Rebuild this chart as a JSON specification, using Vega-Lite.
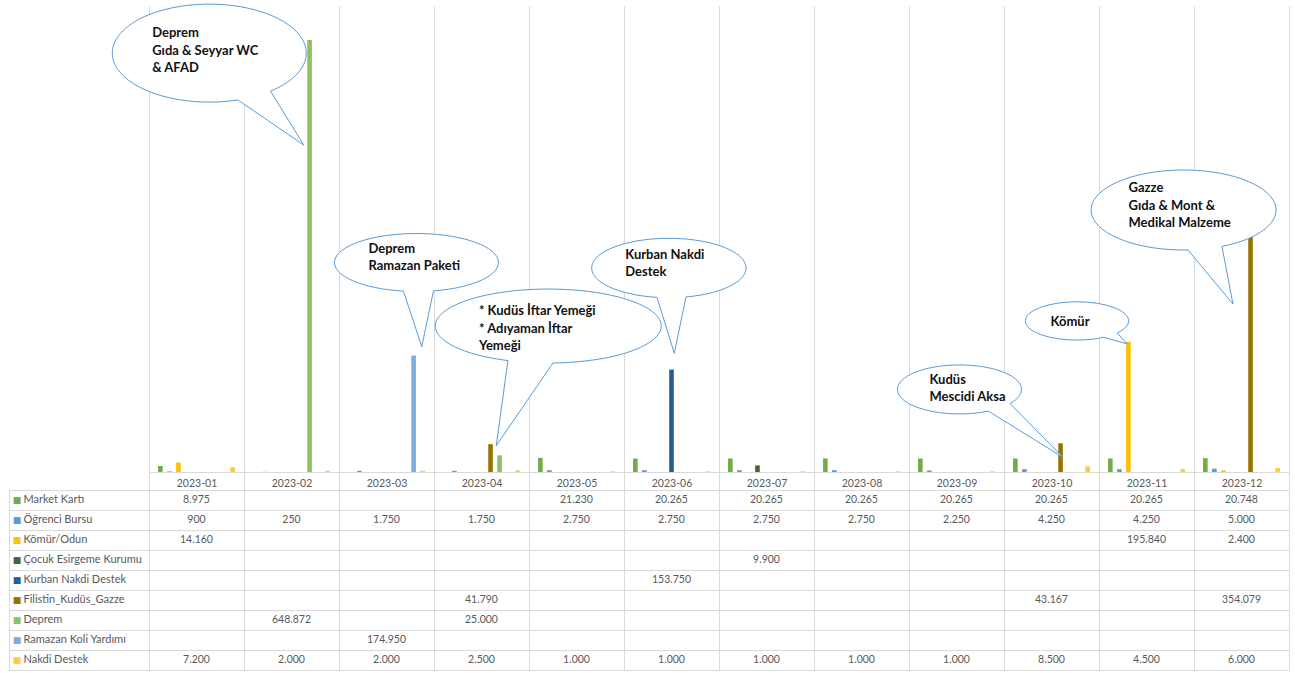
{
  "$schema": "https://vega.github.io/schema/vega-lite/v6.json",
  "background": "white",
  "padding": {"left": 8, "top": 2, "right": 5, "bottom": 2},
  "config": {
    "view": {"stroke": null},
    "locale": {"number": {"decimal": ",", "thousands": ".", "grouping": [3], "currency": ["₺", ""]}}
  },
  "datasets": {
    "table": [
      {"month": "2023-01", "series": "Market Kartı", "value": 8975},
      {"month": "2023-01", "series": "Öğrenci Bursu", "value": 900},
      {"month": "2023-01", "series": "Kömür/Odun", "value": 14160},
      {"month": "2023-01", "series": "Nakdi Destek", "value": 7200},
      {"month": "2023-02", "series": "Öğrenci Bursu", "value": 250},
      {"month": "2023-02", "series": "Deprem", "value": 648872},
      {"month": "2023-02", "series": "Nakdi Destek", "value": 2000},
      {"month": "2023-03", "series": "Öğrenci Bursu", "value": 1750},
      {"month": "2023-03", "series": "Ramazan Koli Yardımı", "value": 174950},
      {"month": "2023-03", "series": "Nakdi Destek", "value": 2000},
      {"month": "2023-04", "series": "Öğrenci Bursu", "value": 1750},
      {"month": "2023-04", "series": "Filistin_Kudüs_Gazze", "value": 41790},
      {"month": "2023-04", "series": "Deprem", "value": 25000},
      {"month": "2023-04", "series": "Nakdi Destek", "value": 2500},
      {"month": "2023-05", "series": "Market Kartı", "value": 21230},
      {"month": "2023-05", "series": "Öğrenci Bursu", "value": 2750},
      {"month": "2023-05", "series": "Nakdi Destek", "value": 1000},
      {"month": "2023-06", "series": "Market Kartı", "value": 20265},
      {"month": "2023-06", "series": "Öğrenci Bursu", "value": 2750},
      {"month": "2023-06", "series": "Kurban Nakdi Destek", "value": 153750},
      {"month": "2023-06", "series": "Nakdi Destek", "value": 1000},
      {"month": "2023-07", "series": "Market Kartı", "value": 20265},
      {"month": "2023-07", "series": "Öğrenci Bursu", "value": 2750},
      {"month": "2023-07", "series": "Çocuk Esirgeme Kurumu", "value": 9900},
      {"month": "2023-07", "series": "Nakdi Destek", "value": 1000},
      {"month": "2023-08", "series": "Market Kartı", "value": 20265},
      {"month": "2023-08", "series": "Öğrenci Bursu", "value": 2750},
      {"month": "2023-08", "series": "Nakdi Destek", "value": 1000},
      {"month": "2023-09", "series": "Market Kartı", "value": 20265},
      {"month": "2023-09", "series": "Öğrenci Bursu", "value": 2250},
      {"month": "2023-09", "series": "Nakdi Destek", "value": 1000},
      {"month": "2023-10", "series": "Market Kartı", "value": 20265},
      {"month": "2023-10", "series": "Öğrenci Bursu", "value": 4250},
      {"month": "2023-10", "series": "Filistin_Kudüs_Gazze", "value": 43167},
      {"month": "2023-10", "series": "Nakdi Destek", "value": 8500},
      {"month": "2023-11", "series": "Market Kartı", "value": 20265},
      {"month": "2023-11", "series": "Öğrenci Bursu", "value": 4250},
      {"month": "2023-11", "series": "Kömür/Odun", "value": 195840},
      {"month": "2023-11", "series": "Nakdi Destek", "value": 4500},
      {"month": "2023-12", "series": "Market Kartı", "value": 20748},
      {"month": "2023-12", "series": "Öğrenci Bursu", "value": 5000},
      {"month": "2023-12", "series": "Kömür/Odun", "value": 2400},
      {"month": "2023-12", "series": "Filistin_Kudüs_Gazze", "value": 354079},
      {"month": "2023-12", "series": "Nakdi Destek", "value": 6000}
    ],
    "callouts": [
      {"id": "c1", "month": "2023-02", "series": "Deprem", "value": 648872, "label": "Deprem\nGıda & Seyyar WC\n& AFAD"},
      {"id": "c2", "month": "2023-03", "series": "Ramazan Koli Yardımı", "value": 174950, "label": "Deprem\nRamazan Paketi"},
      {"id": "c3", "month": "2023-04", "series": "Filistin_Kudüs_Gazze", "value": 41790, "label": "* Kudüs İftar Yemeği\n* Adıyaman İftar\nYemeği"},
      {"id": "c4", "month": "2023-06", "series": "Kurban Nakdi Destek", "value": 153750, "label": "Kurban Nakdi\nDestek"},
      {"id": "c5", "month": "2023-10", "series": "Filistin_Kudüs_Gazze", "value": 43167, "label": "Kudüs\nMescidi Aksa"},
      {"id": "c6", "month": "2023-11", "series": "Kömür/Odun", "value": 195840, "label": "Kömür"},
      {"id": "c7", "month": "2023-12", "series": "Filistin_Kudüs_Gazze", "value": 354079, "label": "Gazze\nGıda & Mont &\nMedikal Malzeme"}
    ],
    "seriesList": [
      {"series": "Market Kartı"},
      {"series": "Öğrenci Bursu"},
      {"series": "Kömür/Odun"},
      {"series": "Çocuk Esirgeme Kurumu"},
      {"series": "Kurban Nakdi Destek"},
      {"series": "Filistin_Kudüs_Gazze"},
      {"series": "Deprem"},
      {"series": "Ramazan Koli Yardımı"},
      {"series": "Nakdi Destek"}
    ]
  },
  "columns": 2,
  "spacing": {"row": 18, "column": 0},
  "bounds": "flush",
  "align": "each",
  "concat": [
    {
      "width": 140,
      "height": 466,
      "data": {"values": []},
      "mark": {"type": "point", "opacity": 0}
    },
    {
      "width": 1140,
      "height": 466,
      "encoding": {
        "x": {
          "field": "month", "type": "ordinal",
          "scale": {"domain": ["2023-01","2023-02","2023-03","2023-04","2023-05","2023-06","2023-07","2023-08","2023-09","2023-10","2023-11","2023-12"], "paddingInner": 0, "paddingOuter": 0},
          "axis": {"title": null, "labels": false, "ticks": true, "tickSize": 18, "tickColor": "#D9D9D9", "tickBand": "extent", "grid": true, "gridColor": "#D9D9D9", "domain": true, "domainColor": "#D9D9D9"}
        },
        "xOffset": {
          "field": "series", "type": "nominal",
          "scale": {"domain": ["Market Kartı","Öğrenci Bursu","Kömür/Odun","Çocuk Esirgeme Kurumu","Kurban Nakdi Destek","Filistin_Kudüs_Gazze","Deprem","Ramazan Koli Yardımı","Nakdi Destek"], "paddingInner": 0.49, "paddingOuter": 1.15}
        },
        "y": {"field": "value", "type": "quantitative", "scale": {"domain": [0, 700000], "nice": false}, "axis": null}
      },
      "layer": [
        {
          "data": {"name": "table"},
          "mark": {"type": "bar"},
          "encoding": {
            "color": {
              "field": "series", "type": "nominal", "legend": null,
              "scale": {
                "domain": ["Market Kartı","Öğrenci Bursu","Kömür/Odun","Çocuk Esirgeme Kurumu","Kurban Nakdi Destek","Filistin_Kudüs_Gazze","Deprem","Ramazan Koli Yardımı","Nakdi Destek"],
                "range": ["#70AD47","#5B9BD5","#FFC000","#43682B","#255E91","#997300","#8CC168","#7CAFDD","#FFCD33"]
              }
            }
          }
        },
        {
          "data": {"name": "callouts"},
          "mark": {"type": "point", "filled": true, "fill": "white", "stroke": "#5B9BD5", "strokeWidth": 1, "opacity": 1, "fillOpacity": 1, "strokeOpacity": 1},
          "encoding": {
            "size": {"value": 4},
            "shape": {
              "field": "id", "type": "nominal", "legend": null,
              "scale": {
                "domain": ["c1","c2","c3","c4","c5","c6","c7"],
                "range": [
                  "M-39.1,51.1A97,49,0,1,0,-71.7,59.9L-5.8,105Z",
                  "M19.84,-64.66A82,29,0,1,0,-10.16,-64.4L8.14,-8.83Z",
                  "M62.41,-81.18A113,37,0,1,0,17.41,-83.58L5.71,1.52Z",
                  "M14.5,-72.69A77.2,29.7,0,1,0,-14.5,-72.3L2.8,-16.35Z",
                  "M-50.49,-39.66A62,24.5,0,1,0,-72.19,-32.16L2.41,14.04Z",
                  "M-11.22,-8.68A51.65,19.15,0,1,0,-24.62,-4.33L-1.22,2.37Z",
                  "M-28.59,10.11A92.5,40,0,1,0,-62.59,13.67L-17.59,67.71Z"
                ]
              }
            }
          }
        },
        {
          "data": {"name": "callouts"},
          "transform": [{"filter": "datum.id == 'c1'"}],
          "mark": {"type": "text", "align": "left", "baseline": "top", "dx": -157.4, "dy": -12.8, "lineBreak": "\n", "lineHeight": 17.5, "font": "Lato", "fontWeight": "bold", "fontSize": 13, "color": "#111111"},
          "encoding": {"text": {"field": "label"}}
        },
        {
          "data": {"name": "callouts"},
          "transform": [{"filter": "datum.id == 'c2'"}],
          "mark": {"type": "text", "align": "left", "baseline": "top", "dx": -45.2, "dy": -112.7, "lineBreak": "\n", "lineHeight": 17.5, "font": "Lato", "fontWeight": "bold", "fontSize": 13, "color": "#111111"},
          "encoding": {"text": {"field": "label"}}
        },
        {
          "data": {"name": "callouts"},
          "transform": [{"filter": "datum.id == 'c3'"}],
          "mark": {"type": "text", "align": "left", "baseline": "top", "dx": -11.6, "dy": -138.7, "lineBreak": "\n", "lineHeight": 17.5, "font": "Lato", "fontWeight": "bold", "fontSize": 13, "color": "#111111"},
          "encoding": {"text": {"field": "label"}}
        },
        {
          "data": {"name": "callouts"},
          "transform": [{"filter": "datum.id == 'c4'"}],
          "mark": {"type": "text", "align": "left", "baseline": "top", "dx": -46.2, "dy": -120.85, "lineBreak": "\n", "lineHeight": 17.5, "font": "Lato", "fontWeight": "bold", "fontSize": 13, "color": "#111111"},
          "encoding": {"text": {"field": "label"}}
        },
        {
          "data": {"name": "callouts"},
          "transform": [{"filter": "datum.id == 'c5'"}],
          "mark": {"type": "text", "align": "left", "baseline": "top", "dx": -131.0, "dy": -69.5, "lineBreak": "\n", "lineHeight": 17.5, "font": "Lato", "fontWeight": "bold", "fontSize": 13, "color": "#111111"},
          "encoding": {"text": {"field": "label"}}
        },
        {
          "data": {"name": "callouts"},
          "transform": [{"filter": "datum.id == 'c6'"}],
          "mark": {"type": "text", "align": "left", "baseline": "top", "dx": -77.9, "dy": -25.4, "lineBreak": "\n", "lineHeight": 17.5, "font": "Lato", "fontWeight": "bold", "fontSize": 13, "color": "#111111"},
          "encoding": {"text": {"field": "label"}}
        },
        {
          "data": {"name": "callouts"},
          "transform": [{"filter": "datum.id == 'c7'"}],
          "mark": {"type": "text", "align": "left", "baseline": "top", "dx": -122.0, "dy": -54.1, "lineBreak": "\n", "lineHeight": 17.5, "font": "Lato", "fontWeight": "bold", "fontSize": 13, "color": "#111111"},
          "encoding": {"text": {"field": "label"}}
        }
      ]
    },
    {
      "width": 140,
      "height": 180,
      "data": {"name": "seriesList"},
      "view": {"stroke": "#D9D9D9"},
      "encoding": {
        "y": {
          "field": "series", "type": "nominal",
          "scale": {"domain": ["Market Kartı","Öğrenci Bursu","Kömür/Odun","Çocuk Esirgeme Kurumu","Kurban Nakdi Destek","Filistin_Kudüs_Gazze","Deprem","Ramazan Koli Yardımı","Nakdi Destek"], "paddingInner": 0, "paddingOuter": 0},
          "axis": {"title": null, "labels": false, "ticks": false, "domain": false, "grid": true, "gridColor": "#D9D9D9", "tickBand": "extent"}
        }
      },
      "layer": [
        {
          "mark": {"type": "text", "text": "■", "font": "DejaVu Sans", "fontSize": 9, "align": "center", "dx": -62},
          "encoding": {"color": {"field": "series", "type": "nominal", "legend": null}}
        },
        {
          "mark": {"type": "text", "align": "left", "dx": -55.5, "font": "Lato", "fontSize": 11, "color": "#595959"},
          "encoding": {"text": {"field": "series"}}
        }
      ]
    },
    {
      "width": 1140,
      "height": 180,
      "data": {"name": "table"},
      "view": {"stroke": "#D9D9D9"},
      "mark": {"type": "text", "font": "Lato", "fontSize": 10.5, "color": "#595959"},
      "encoding": {
        "x": {
          "field": "month", "type": "ordinal",
          "scale": {"domain": ["2023-01","2023-02","2023-03","2023-04","2023-05","2023-06","2023-07","2023-08","2023-09","2023-10","2023-11","2023-12"], "paddingInner": 0, "paddingOuter": 0},
          "axis": {"orient": "top", "title": null, "labelFont": "Lato", "labelFontSize": 10.5, "labelColor": "#595959", "labelPadding": 2, "labelAngle": 0, "ticks": false, "tickSize": 0, "domain": false, "grid": true, "gridColor": "#D9D9D9", "tickBand": "extent"}
        },
        "y": {
          "field": "series", "type": "nominal",
          "scale": {"domain": ["Market Kartı","Öğrenci Bursu","Kömür/Odun","Çocuk Esirgeme Kurumu","Kurban Nakdi Destek","Filistin_Kudüs_Gazze","Deprem","Ramazan Koli Yardımı","Nakdi Destek"], "paddingInner": 0, "paddingOuter": 0},
          "axis": {"title": null, "labels": false, "ticks": false, "domain": false, "grid": true, "gridColor": "#D9D9D9", "tickBand": "extent"}
        },
        "text": {"field": "value", "type": "quantitative", "format": ","}
      }
    }
  ]
}
